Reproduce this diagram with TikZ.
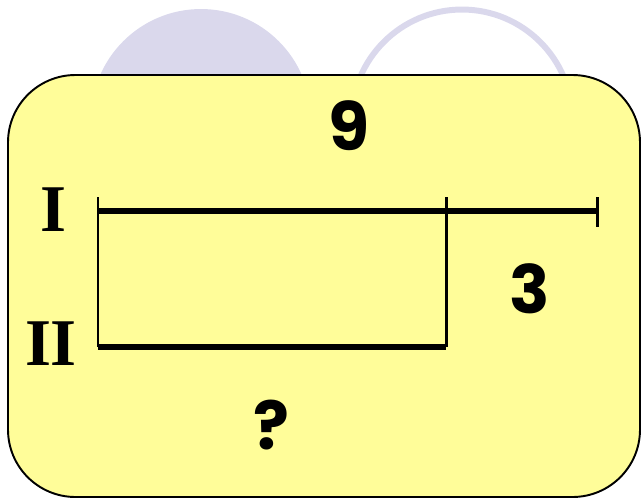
\documentclass[tikz,border=0pt]{standalone}
\usepackage{fontspec}
\newfontfamily\digitfont{Poppins}
\newfontfamily\romanfont{Liberation Serif}
\definecolor{pad}{HTML}{FFFD99}
\definecolor{lilac}{HTML}{DAD8EC}
\begin{document}
\begin{tikzpicture}[x=0.02cm, y=-0.02cm,
        pad/.style={draw=black, line width=1.1pt, fill=pad, rounded corners=1.35cm},
        blob/.style={fill=lilac},
        ring/.style={draw=lilac, line width=3.4pt},
        bar/.style={line width=3.4pt},
        tick/.style={line width=1.7pt},
        num/.style={font=\digitfont\bfseries\fontsize{38}{40}\selectfont},
        rank/.style={font=\romanfont\bfseries\fontsize{38}{40}\selectfont},
      ]
      \useasboundingbox (0,0) rectangle (642,501);
      %Background
      \fill[blob] (201,119) circle[radius=2.2cm];
      \draw[ring] (462,120) circle[radius=2.21cm];
      \draw[pad] (8,75) rectangle (640,497);

      %Nodes
      \node[rank] (one) at (53,210) {I};
      \node[rank] (two) at (51,344) {II};
      \node[num]  (nine)  at (349,126) {9};
      \node[num]  (three) at (530,289) {3};
      \node[num]  (ask)   at (271,425) {?};

      \coordinate (a1) at (98,211);
      \coordinate (b1) at (446,211);
      \coordinate (c1) at (598,211);
      \coordinate (a2) at (98,347);
      \coordinate (b2) at (446,347);
      \coordinate (at) at (98,197);
      \coordinate (bt) at (446,197);
      \coordinate (ct) at (597,197);
      \coordinate (cb) at (597,227);

      %Lines
      \draw[tick] (at) -- (a2);
      \draw[tick] (bt) -- (b2);
      \draw[tick] (ct) -- (cb);
      \draw[bar] (a1) -- (c1);
      \draw[bar] (a2) -- (b2);
    \end{tikzpicture}
\end{document}
